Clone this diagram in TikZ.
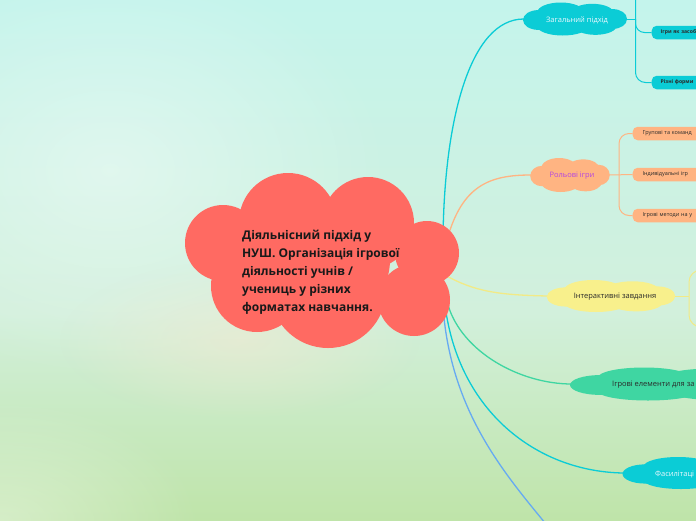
\documentclass[tikz,border=0pt]{standalone}
\usepackage{fontspec}
\setmainfont{Open Sans}
\usetikzlibrary{fadings}
\definecolor{bgtop}{HTML}{C4F4EC}
\definecolor{bgmid}{HTML}{D2F0DC}
\definecolor{bgbot}{HTML}{BAE19C}
\definecolor{rootred}{HTML}{FF6A62}
\definecolor{cyanb}{HTML}{0BCCD6}
\definecolor{orangeb}{HTML}{FFB482}
\definecolor{yellowb}{HTML}{F8F08C}
\definecolor{yellowl}{HTML}{F2EA86}
\definecolor{greenb}{HTML}{3FD6A2}
\definecolor{blueb}{HTML}{66AAF2}
\definecolor{purpt}{HTML}{B446E0}
\definecolor{darkt}{HTML}{2A2A2A}
\definecolor{beige}{HTML}{F2EAD2}
\pgfdeclareverticalshading{bgshade}{100bp}{color(0bp)=(bgbot); color(20bp)=(bgbot); color(45bp)=(bgmid); color(75bp)=(bgtop); color(100bp)=(bgtop)}
\tikzfading[name=softglow, inner color=transparent!0, outer color=transparent!100]
\tikzset{
  conn/.style={line width=1.3pt},
  subconn/.style={line width=1pt},
  bubtext/.style={rectangle, inner sep=0pt, font=\fontsize{7.5}{9}\selectfont},
  leaf/.style={rectangle, rounded corners=5pt, anchor=west, minimum height=13.5pt, text width=70pt, inner xsep=10pt, inner ysep=0pt, align=left, font=\fontsize{5.5}{6}\selectfont},
  rootlobe/.style={fill=rootred}
}
% cloud blob: #1 x, #2 y, #3 width, #4 height, #5 colour
\newcommand\blobat[5]{%
  \begin{scope}[shift={(#1,#2)}, xscale=#3/100, yscale=#4/100]
    \fill[#5] (0,0) ellipse [x radius=44pt, y radius=30pt];
    \fill[#5] (-14,-20) ellipse [x radius=23pt, y radius=30pt];
    \fill[#5] (17,-18) ellipse [x radius=21pt, y radius=28pt];
    \fill[#5] (-12,22) ellipse [x radius=25pt, y radius=28pt];
    \fill[#5] (20,20) ellipse [x radius=21pt, y radius=28pt];
    \fill[#5] (-36,3) ellipse [x radius=15pt, y radius=30pt];
    \fill[#5] (37,0) ellipse [x radius=14pt, y radius=30pt];
  \end{scope}}
\begin{document}
\begin{tikzpicture}[x=1pt,y=-1pt]
\useasboundingbox (0,0) rectangle (696,520);
\begin{scope}
\clip (0,0) rectangle (696,520);
% background
\shade[shading=bgshade] (0,0) rectangle (696,520);
\fill[white, opacity=0.4, path fading=softglow] (110,170) ellipse [x radius=280pt, y radius=210pt];
\fill[beige, opacity=0.6, path fading=softglow] (240,340) ellipse [x radius=180pt, y radius=80pt];
\fill[white, opacity=0.35, path fading=softglow] (0,520) ellipse [x radius=200pt, y radius=120pt];

% named points
\coordinate (s1) at (443,240);
\coordinate (s2) at (447,240);
\coordinate (s3) at (445,275);
\coordinate (s4) at (448,305);
\coordinate (s5) at (446,312);
\coordinate (s6) at (444,318);
\coordinate (bend) at (555,535);

% branch node frames (for anchors and text)
\node[bubtext, minimum width=102pt, minimum height=33pt] (zag) at (575,19) {};
\node[bubtext, minimum width=78pt, minimum height=34pt] (rol) at (570,175) {};
\node[bubtext, minimum width=126pt, minimum height=32pt] (int) at (611,296) {};
\node[bubtext, minimum width=200pt, minimum height=33pt] (igr) at (672,384) {};
\node[bubtext, minimum width=150pt, minimum height=32pt] (fas) at (699,473) {};

% leaves
\node[leaf, fill=cyanb, text=darkt, inner xsep=9pt, font=\fontsize{5.1}{6}\bfseries] (z1) at (651.5,32.5) {Ігри як засоб};
\node[leaf, fill=cyanb, text=darkt, inner xsep=9pt, font=\fontsize{5.1}{6}\bfseries] (z2) at (651.5,82.5) {Різні форми};
\node[leaf, fill=orangeb, text=darkt] (r1) at (632.5,133.5) {Групові та команд};
\node[leaf, fill=orangeb, text=darkt] (r2) at (632.5,174.5) {Індивідуальні ігр};
\node[leaf, fill=orangeb, text=darkt] (r3) at (632.5,215.5) {Ігрові методи на у};

\coordinate (zj) at (635.5,19);
\coordinate (ztop) at (635.5,-10);
\coordinate (rj) at (619,175);
\coordinate (ij) at (689,296);
\coordinate (iu) at (712,270);
\coordinate (id) at (712,327);

% main connectors
\draw[conn, cyanb] (s1) .. controls (444,120) and (470,19) .. (zag.west);
\draw[conn, orangeb] (s2) .. controls (462,185) and (490,175) .. (rol.west);
\draw[conn, yellowl] (s3) .. controls (475,292) and (500,295) .. (int.west);
\draw[conn, greenb] (s4) .. controls (462,352) and (520,384) .. (igr.west);
\draw[conn, cyanb] (s5) .. controls (462,415) and (540,472) .. (fas.west);
\draw[conn, blueb] (s6) .. controls (455,420) and (510,480) .. (bend);

% sub connectors
\draw[subconn, cyanb] (zag.east) -- (zj);
\draw[subconn, cyanb, rounded corners=10pt] (ztop) -- (zj) |- (z2.west);
\draw[subconn, cyanb, rounded corners=9pt] (zj) |- (z1.west);
\draw[subconn, orangeb] (rol.east) -- (r2.west);
\draw[subconn, orangeb, rounded corners=10pt] (r1.west) -| (rj) |- (r3.west);
\draw[subconn, yellowl] (int.east) -- (ij);
\draw[subconn, yellowl, rounded corners=12pt] (iu) -| (ij) |- (id);

% cloud blobs
\blobat{575}{19}{102}{33}{cyanb}
\blobat{570}{175}{78}{34}{orangeb}
\blobat{611}{296}{126}{32}{yellowb}
\blobat{672}{384}{200}{33}{greenb}
\blobat{699}{473}{150}{32}{cyanb}

% branch texts
\node[bubtext, text=white!92!cyan] (zagt) at (577,20) {Загальний підхід};
\node[bubtext, text=purpt] (rolt) at (572,176) {Рольові ігри};
\node[bubtext, text=darkt] (intt) at (615,297) {Інтерактивні завдання};
\node[bubtext, anchor=west, text=darkt] (igrt) at (612,385) {Ігрові елементи для за};
\node[bubtext, anchor=west, text=white!92!cyan] (fast) at (655,474) {Фасилітаці};

% root cloud
\fill[rootlobe] (223,243) circle (38pt);
\fill[rootlobe] (288,222) circle (49pt);
\fill[rootlobe] (368,223) circle (46pt);
\fill[rootlobe] (427,253) circle (32pt);
\fill[rootlobe] (414,300) circle (36pt);
\fill[rootlobe] (328,290) circle (58pt);
\fill[rootlobe] (257,286) circle (46pt);
\fill[rootlobe] (330,260) circle (60pt);
\node[anchor=west, inner sep=0pt, align=left, text=black!90, font=\fontsize{12}{18}\selectfont\bfseries] (root) at (242,272)
  {Діяльнісний підхід у\\НУШ. Організація ігрової\\діяльності учнів /\\учениць у різних\\форматах навчання.};
\end{scope}
\end{tikzpicture}
\end{document}
